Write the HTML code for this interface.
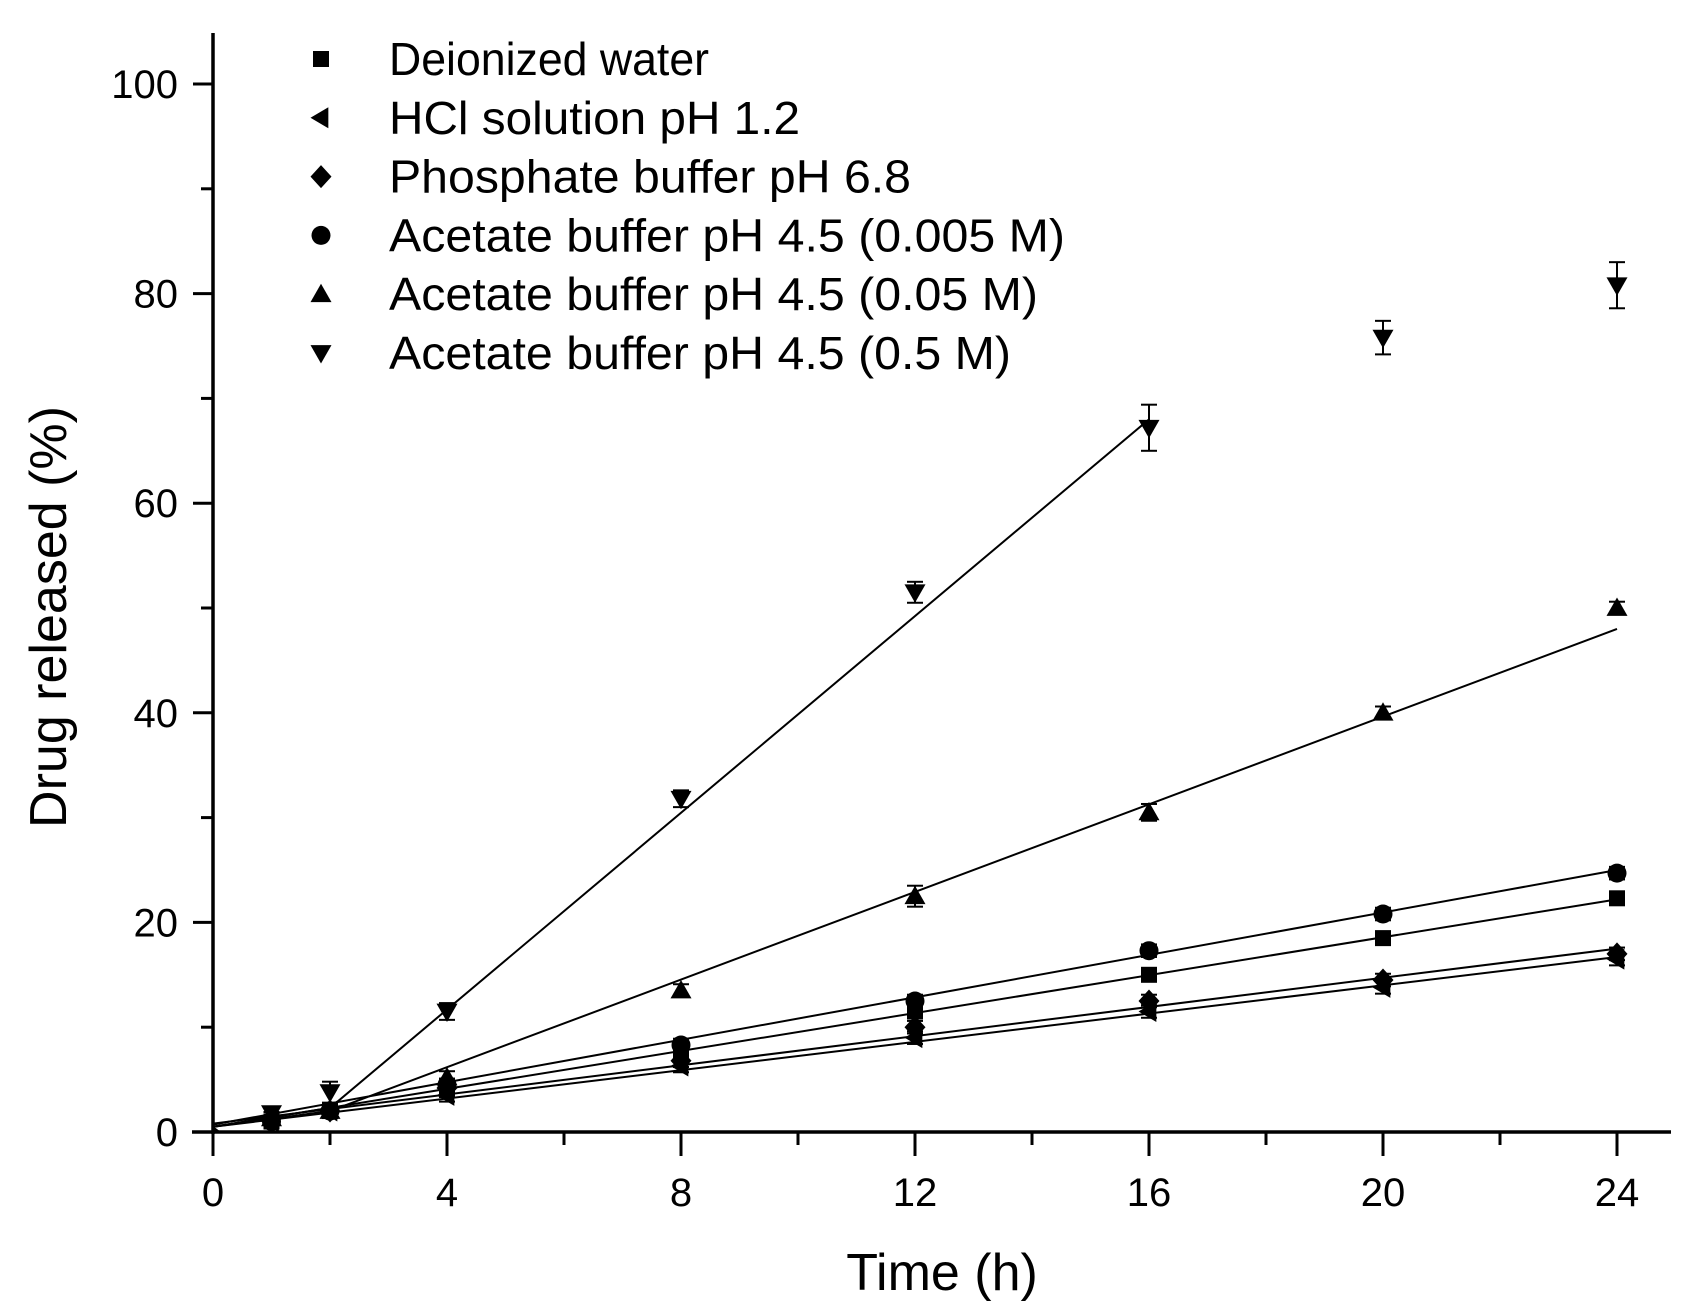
<!DOCTYPE html>
<html><head><meta charset="utf-8"><style>
html,body{margin:0;padding:0;background:#fff}
svg{display:block;font-family:"Liberation Sans",Arial,sans-serif}
</style></head><body>
<svg id="s" width="1705" height="1315" viewBox="0 0 1705 1315" xmlns="http://www.w3.org/2000/svg">
<rect width="1705" height="1315" fill="#fff"/>
</svg>
<script>
const s=document.getElementById('s');const NS='http://www.w3.org/2000/svg';
function el(t,a,txt){const e=document.createElementNS(NS,t);for(const k in a)e.setAttribute(k,a[k]);if(txt!==undefined)e.textContent=txt;s.appendChild(e);return e;}
const X=h=>213+h*58.5, Y=v=>1132-v*10.48;
el('line',{x1:213,y1:33,x2:213,y2:1134,stroke:'#000','stroke-width':3.5});
el('line',{x1:192,y1:1132,x2:1671,y2:1132,stroke:'#000','stroke-width':3.5});
for(let h=0;h<=26;h+=2){const maj=h%4==0;if(h>24&&maj)continue;
 el('line',{x1:X(h),y1:1132,x2:X(h),y2:1132+(maj?24:13),stroke:'#000','stroke-width':3});
 if(maj&&h<=24)el('text',{x:X(h),y:1206,'font-size':40,'text-anchor':'middle'},h);}
for(let v=0;v<=100;v+=10){const maj=v%20==0;
 el('line',{x1:213,y1:Y(v),x2:213-(maj?20:12),y2:Y(v),stroke:'#000','stroke-width':3});
 if(maj)el('text',{x:178,y:Y(v)+14,'font-size':40,'text-anchor':'end'},v);}
el('text',{x:942,y:1290,'font-size':52,'text-anchor':'middle'},'Time (h)');
el('text',{x:0,y:0,'font-size':52,'text-anchor':'middle',transform:'translate(66,617) rotate(-90)'},'Drug released (%)');
const fits=[[[0,0.5],[2,2.3],[16,68]],[[0,0.5],[2,2],[24,48]],[[0,0.7],[24,25]],[[0,0.5],[24,22.2]],[[0,0.8],[24,17.5]],[[0,0.5],[24,16.7]]];
fits.forEach(f=>el('polyline',{points:f.map(p=>X(p[0])+','+Y(p[1])).join(' '),fill:'none',stroke:'#000','stroke-width':2}));
function marker(type,cx,cy,r){
 r=r||10.5;let p;
 if(type=='sq')return el('rect',{x:cx-8,y:cy-8,width:16,height:16,fill:'#000'});
 if(type=='ci')return el('circle',{cx:cx,cy:cy,r:9.5,fill:'#000'});
 if(type=='di')p=[[0,-r-1],[r,0],[0,r+1],[-r,0]];
 if(type=='lt')p=[[-r,0],[r*0.7,-r],[r*0.7,r]];
 if(type=='ut')p=[[0,-r],[r,r*0.75],[-r,r*0.75]];
 if(type=='dt')p=[[0,r],[r,-r*0.75],[-r,-r*0.75]];
 el('polygon',{points:p.map(q=>(cx+q[0])+','+(cy+q[1])).join(' '),fill:'#000'});
}
const hs=[1,2,4,8,12,16,20,24];
const data={
 dt:[1.8,3.8,11.5,31.8,51.5,67.2,75.8,80.8],
 ut:[1.3,2,5.2,13.5,22.5,30.5,40,50],
 ci:[1,2,4.5,8.3,12.5,17.3,20.8,24.7],
 sq:[1,2,4,7.3,11.5,15,18.5,22.3],
 di:[1.3,2,4.2,6.8,10,12.5,14.5,17],
 lt:[1,2,3.5,6.3,9,11.5,13.8,16.5]};
const errs={dt:{16:2.2,20:1.6,24:2.2,12:1,8:0.8,4:0.8,2:1},ut:{12:1,16:0.8,24:0.6}};
for(const k in data){data[k].forEach((v,i)=>{const h=hs[i];const e=(errs[k]||{})[h]||0.6;
 el('line',{x1:X(h),y1:Y(v-e),x2:X(h),y2:Y(v+e),stroke:'#000','stroke-width':2});
 el('line',{x1:X(h)-8,y1:Y(v+e),x2:X(h)+8,y2:Y(v+e),stroke:'#000','stroke-width':2});
 el('line',{x1:X(h)-8,y1:Y(v-e),x2:X(h)+8,y2:Y(v-e),stroke:'#000','stroke-width':2});
 marker(k,X(h),Y(v));});}
el('polygon',{points:X(0)+','+(Y(0)-6)+' '+(X(0)+8)+','+Y(0)+' '+X(0)+','+(Y(0)+2),fill:'#000'});
const leg=[['sq','Deionized water'],['lt','HCl solution pH 1.2'],['di','Phosphate buffer pH 6.8'],['ci','Acetate buffer pH 4.5 (0.005 M)'],['ut','Acetate buffer pH 4.5 (0.05 M)'],['dt','Acetate buffer pH 4.5 (0.5 M)']];
leg.forEach((l,i)=>{const y=59+i*58.8;marker(l[0],321,y);
 el('text',{x:389,y:y+16,'font-size':46,textLength:[320,411,522,676,649,622][i],lengthAdjust:'spacingAndGlyphs'},l[1]);});
</script>
</body></html>
